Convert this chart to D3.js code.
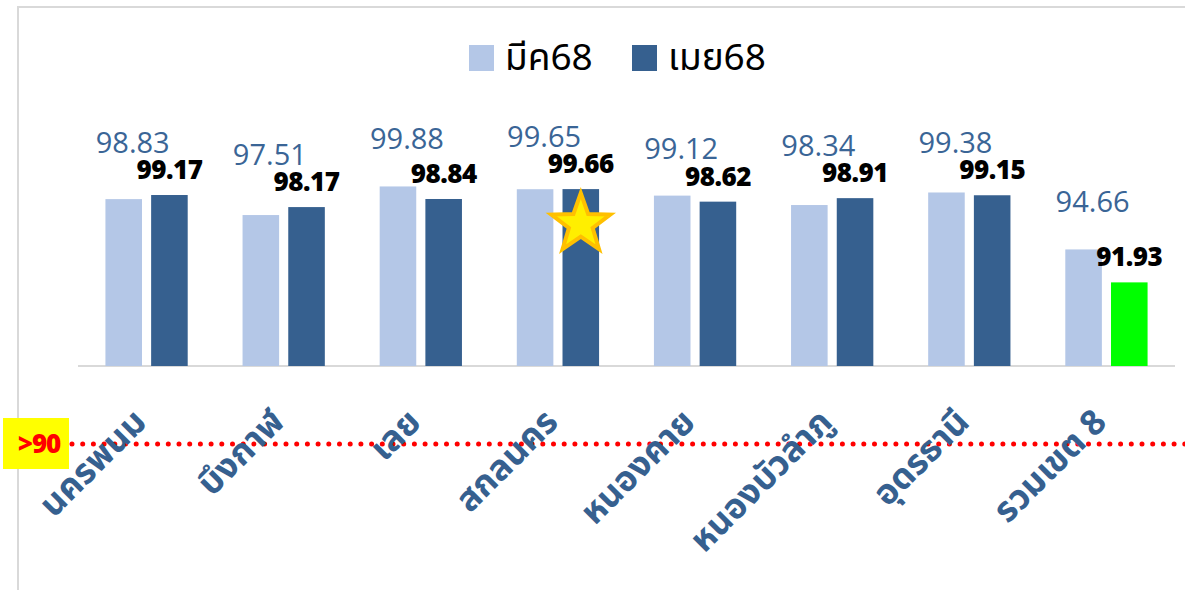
<!DOCTYPE html>
<html><head><meta charset="utf-8">
<script src="https://cdn.jsdelivr.net/npm/d3@7"></script>
<style>html,body{margin:0;padding:0;background:#fff;}svg{display:block;}</style>
</head><body>
<svg id="c" width="1185" height="590"></svg>
<script>
const categories = ["นครพนม","บึงกาฬ","เลย","สกลนคร","หนองคาย","หนองบัวลำภู","อุดรธานี","รวมเขต 8"];
const seriesNames = ["มีค68","เมย68"];
const mar68 = [98.83, 97.51, 99.88, 99.65, 99.12, 98.34, 99.38, 94.66];
const apr68 = [99.17, 98.17, 98.84, 99.66, 98.62, 98.91, 99.15, 91.93];
const thresholdLabel = ">90";
const starCategory = "สกลนคร";
const highlightCategory = "รวมเขต 8";

const svg = d3.select("#c");
const W = 1185, H = 590;
const light = "#b4c7e7", dark = "#36608f", lblBlue = "#3a6596", catBlue = "#36608f";
const thaiFont = "'Noto Sans Thai','Noto Sans','Open Sans',sans-serif";

// frame
svg.append("path").attr("d", `M18,${H} V7 H${W}`).attr("fill","none").attr("stroke","#d9d9d9").attr("stroke-width",2);

const x0 = d3.scaleBand().domain(categories).range([78, 1175]).paddingInner(0.4).paddingOuter(0.2);
const x1 = d3.scaleBand().domain([0,1]).range([0, x0.bandwidth()]).paddingInner(0.2);
const y = d3.scaleLinear().domain([85, 100]).range([366, 185]);

// baseline
svg.append("line").attr("x1",78).attr("x2",1175).attr("y1",y(85)).attr("y2",y(85)).attr("stroke","#d9d9d9").attr("stroke-width",2);

const rows = categories.map((c,i)=>({c, v:[mar68[i], apr68[i]]}));

const g = svg.selectAll("g.grp").data(rows).join("g").attr("class","grp")
  .attr("transform", d=>`translate(${x0(d.c)},0)`);

g.selectAll("rect").data(d=>d.v.map((v,k)=>({v,k,c:d.c}))).join("rect")
  .attr("x", d=>x1(d.k)).attr("width", x1.bandwidth())
  .attr("y", d=>y(d.v)).attr("height", d=>y(85)-y(d.v))
  .attr("fill", d=> d.k===0 ? light : (d.c===highlightCategory ? "#00ff00" : dark));

// data labels
const darkBase = d => y(d.v[1]) - 16;
g.append("text").attr("x", x1(1)+x1.bandwidth()/2).attr("y", darkBase)
  .attr("text-anchor","middle").attr("font-family","'Open Sans',sans-serif").attr("font-weight","800").attr("font-size",26)
  .attr("letter-spacing",-0.5).attr("fill", "#000").text(d=>d.v[1].toFixed(2));
g.append("text").attr("x", x1(0)+x1.bandwidth()/2+9).attr("y", d=>Math.min(y(d.v[0])-37, darkBase(d)-26))
  .attr("text-anchor","middle").attr("font-family","'Open Sans',sans-serif").attr("font-size",29)
  .attr("fill", lblBlue).text(d=>d.v[0].toFixed(2));

// star
const starRow = rows.find(r=>r.c===starCategory);
const sx = x0(starCategory)+x1(1)+x1.bandwidth()/2, sy = y(starRow.v[1])+35;
const pts = d3.range(10).map(i=>{const r = i%2===0?31:12.5; const a = -Math.PI/2 + i*Math.PI/5; return [sx+r*Math.cos(a), sy+r*Math.sin(a)];});
svg.append("path").attr("d", "M"+pts.map(p=>p.join(",")).join("L")+"Z")
  .attr("fill","#ffef00").attr("stroke","#ffc000").attr("stroke-width",4).attr("stroke-linejoin","miter");

// threshold dotted line & box
const ty = 444;
svg.append("line").attr("x1",72).attr("x2",W).attr("y1",ty).attr("y2",ty)
  .attr("stroke","#ff0000").attr("stroke-width",5).attr("stroke-linecap","round").attr("stroke-dasharray","0,10.7");
svg.append("rect").attr("x",3).attr("y",418).attr("width",66).attr("height",51).attr("fill","#ffff00");
svg.append("text").attr("x",39).attr("y",453).attr("text-anchor","middle").attr("font-family","'Open Sans',sans-serif")
  .attr("font-weight","800").attr("font-size",26).attr("letter-spacing",-1).attr("fill","#ff0000").text(thresholdLabel);

// category labels
svg.selectAll("text.cat").data(categories).join("text").attr("class","cat")
  .attr("transform", d=>`translate(${x0(d)+x0.bandwidth()/2+2},${424}) rotate(-45)`)
  .attr("text-anchor","end").attr("font-family",thaiFont).attr("font-weight","bold").attr("font-size",35)
  .attr("fill",catBlue).text(d=>d);

// legend
const leg = [{n:seriesNames[0],c:light,x:469},{n:seriesNames[1],c:dark,x:632}];
leg.forEach(l=>{
  svg.append("rect").attr("x",l.x).attr("y",45).attr("width",25).attr("height",26).attr("fill",l.c);
  svg.append("text").attr("x",l.x+36).attr("y",70).attr("font-family",thaiFont).attr("font-size",37).attr("fill","#000").text(l.n);
});
</script>
</body></html>
